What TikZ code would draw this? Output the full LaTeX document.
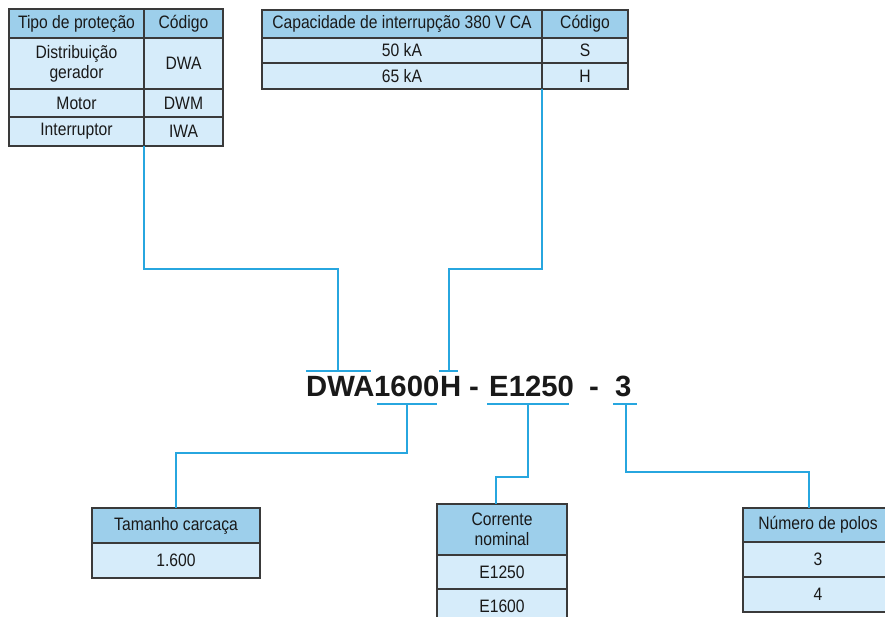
\documentclass[tikz,border=0pt]{standalone}
\usepackage{fontspec}
\setmainfont{Liberation Sans}[FakeStretch=0.87]
\newfontfamily\codefont{Liberation Sans}
\usetikzlibrary{positioning}
\definecolor{hdrblue}{HTML}{9DCFEB}
\definecolor{cellblue}{HTML}{D6ECFA}
\definecolor{lineblue}{HTML}{27A6DF}
\definecolor{edgegray}{HTML}{3A3A3A}
\tikzset{
  cell/.style={draw=edgegray, line width=1.2pt, fill=cellblue, outer sep=0pt, inner sep=1pt,
    align=center, text=black!90, font=\fontsize{18}{20}\selectfont},
  hdr/.style={cell, fill=hdrblue},
  conn/.style={draw=lineblue, line width=1.2pt},
  code/.style={inner sep=0pt, anchor=base west, text=black!90, font=\codefont\bfseries\fontsize{29.3}{30}\selectfont}
}
\begin{document}
\begin{tikzpicture}[x=1pt,y=-1pt]
\useasboundingbox (0,0) rectangle (885,617);
\begin{scope}
\clip (0,0) rectangle (885,617);
% tipo de protecao
\node[hdr, minimum width=135, minimum height=29, anchor=north west] (tipo) at (9,9) {Tipo de proteção};
\node[hdr, minimum width=79, minimum height=29, right=0pt of tipo] (tipoc) {Código};
\node[cell, minimum width=135, minimum height=51, below=0pt of tipo] (distr) {Distribuição\\gerador};
\node[cell, minimum width=79, minimum height=51, below=0pt of tipoc] (dwa) {DWA};
\node[cell, minimum width=135, minimum height=28, below=0pt of distr] (motor) {Motor};
\node[cell, minimum width=79, minimum height=28, below=0pt of dwa] (dwm) {DWM};
\node[cell, minimum width=135, minimum height=29, below=0pt of motor] (intr) {Interruptor};
\node[cell, minimum width=79, minimum height=29, below=0pt of dwm] (iwa) {IWA};
% capacidade de interrupcao
\node[hdr, minimum width=280, minimum height=28, anchor=north west] (capac) at (262,10) {Capacidade de interrupção 380 V CA};
\node[hdr, minimum width=86, minimum height=28, right=0pt of capac] (capc) {Código};
\node[cell, minimum width=280, minimum height=25, below=0pt of capac] (k50) {50 kA};
\node[cell, minimum width=86, minimum height=25, below=0pt of capc] (cs) {S};
\node[cell, minimum width=280, minimum height=26, below=0pt of k50] (k65) {65 kA};
\node[cell, minimum width=86, minimum height=26, below=0pt of cs] (ch) {H};
% codigo
\node[code] (dwa3) at (306,396) {DWA};
\node[code] (c1600) at (374,396) {1600};
\node[code] (ch) at (440,396) {H};
\node[code] (d1) at (469,396) {-};
\node[code] (e1250) at (489,396) {E1250};
\node[code] (d2) at (589,396) {-};
\node[code] (npol) at (615,396) {3};
% tamanho
\node[hdr, minimum width=168, minimum height=35, anchor=north west] (tam) at (92,508) {Tamanho carcaça};
\node[cell, minimum width=168, minimum height=35, below=0pt of tam] (t1600) {1.600};
% corrente
\node[hdr, minimum width=130, minimum height=51, anchor=north west] (cor) at (437,504) {Corrente\\nominal};
\node[cell, minimum width=130, minimum height=34, below=0pt of cor] (ce1250) {E1250};
\node[cell, minimum width=130, minimum height=34, below=0pt of ce1250] (ce1600) {E1600};
% polos
\node[hdr, minimum width=150, minimum height=34, anchor=north west] (pol) at (743,508) {Número de polos};
\node[cell, minimum width=150, minimum height=35, below=0pt of pol] (p3) {3};
\node[cell, minimum width=150, minimum height=35, below=0pt of p3] (p4) {4};
\end{scope}
% barras
\draw[conn] (306,371) -- (371,371);
\draw[conn] (439,371) -- (458,371);
\draw[conn] (377,404) -- (437,404);
\draw[conn] (487,404) -- (569,404);
\draw[conn] (613,404) -- (637,404);
\coordinate (b1) at (338,371);
\coordinate (b2) at (449,371);
\coordinate (b3) at (407,404);
\coordinate (b4) at (528,404);
\coordinate (b5) at (626,404);
% ligacoes
\draw[conn] (intr.south east) -- ++(0,123) -| (b1);
\draw[conn] (k65.south east) -- ++(0,180) -| (b2);
\draw[conn] (b3) -- ++(0,49) -| (tam.north);
\draw[conn] (b4) -- ++(0,73) -| ([xshift=-6pt]cor.north);
\draw[conn] (b5) -- ++(0,68) -| ([xshift=-9pt]pol.north);
\end{tikzpicture}
\end{document}
